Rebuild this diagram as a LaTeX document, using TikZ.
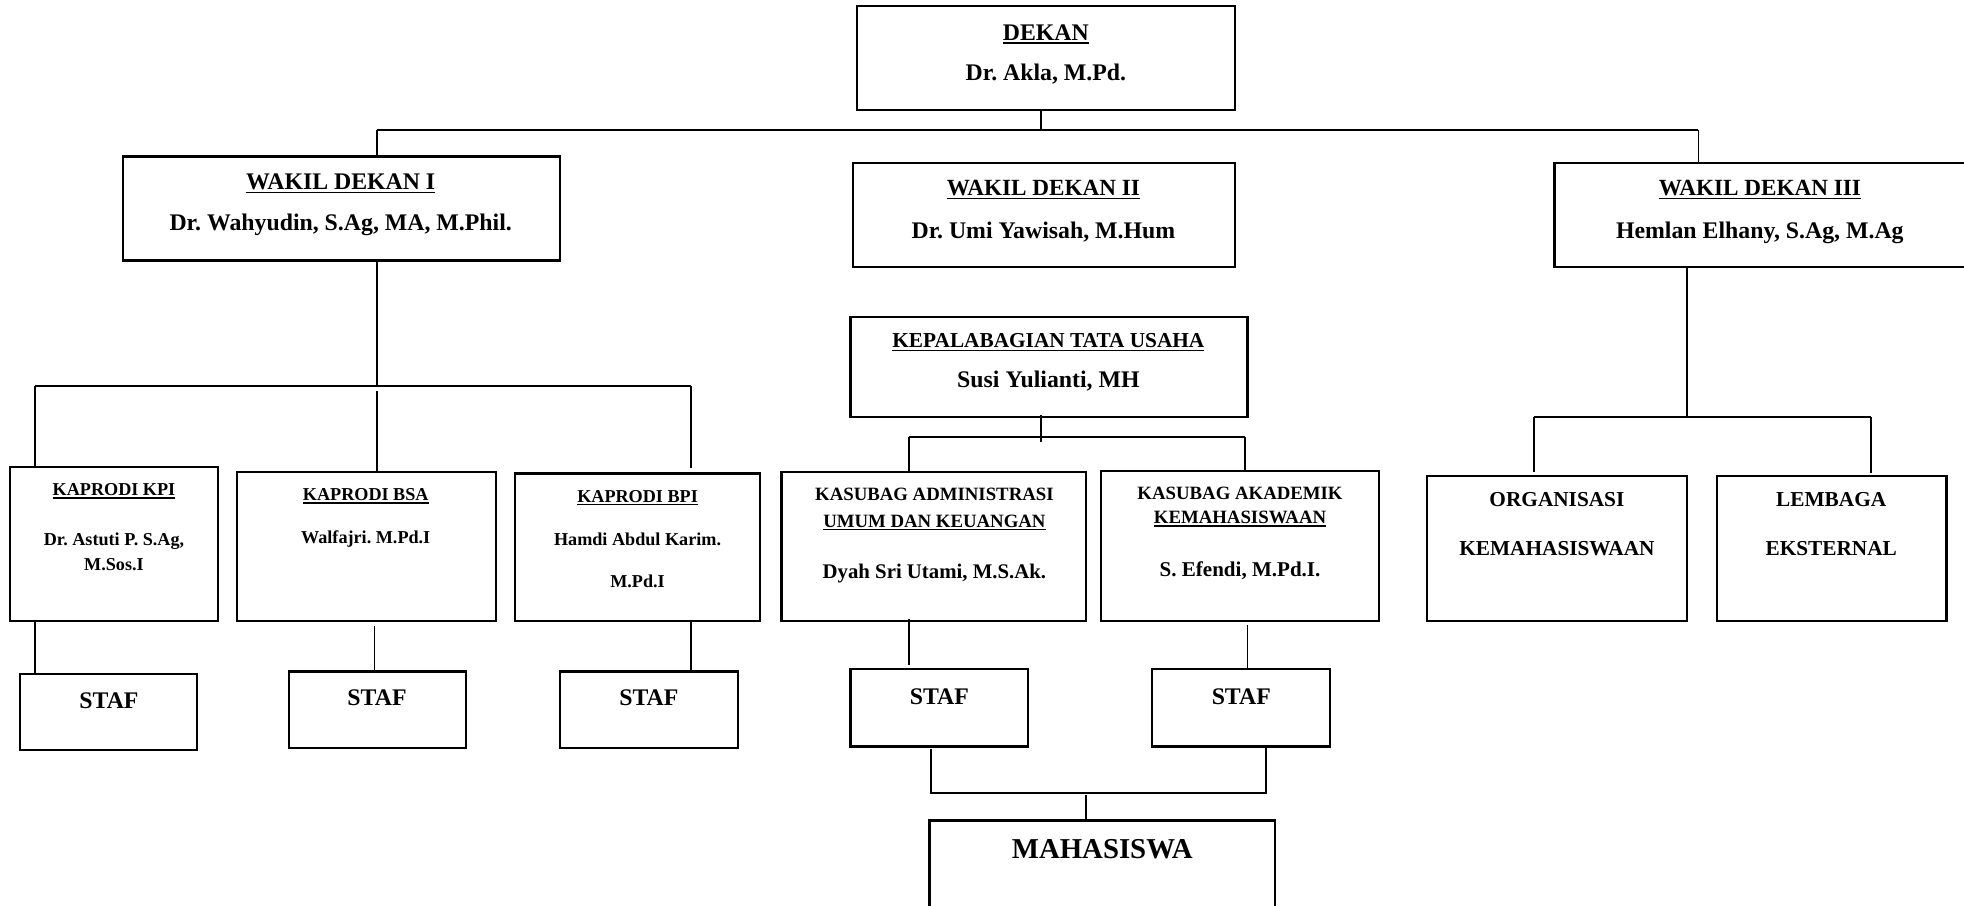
\documentclass[tikz,border=0pt]{standalone}
\usepackage{fontspec}
\setmainfont{Liberation Serif}
\frenchspacing
\newcommand{\myul}[1]{\setbox0\hbox{#1}\rlap{\rule[-0.16em]{\wd0}{0.075em}}\box0}
\tikzset{
  box/.style={draw, line width=1.8pt, inner sep=0pt, outer sep=0pt},
  txt/.style={inner sep=0pt, font=\bfseries, anchor=base},
  conn/.style={line width=1.5pt}
}
\newcommand{\mybox}[5]{\node[box, minimum width={#4-#2}, minimum height={#5-#3}] (#1) at ({(#2+#4)/2},{(#3+#5)/2}) {};}
\newcommand{\tx}[5]{\node[txt] (#1) at (#2,{#3+0.33*#4}) {\fontsize{#4}{#4}\selectfont #5};}
\begin{document}
\begin{tikzpicture}[x=1pt,y=-1pt]
\useasboundingbox (0,0) rectangle (1568,723);
% boxes
\mybox{dekan}{684}{5}{986}{88}
\mybox{wda}{98}{125}{447}{208}
\mybox{wdb}{681}{130}{986}{213}
\mybox{wdc}{1241}{130}{1590}{213}
\mybox{ktu}{679}{253}{996}{333}
\mybox{kpi}{8}{373}{174}{496}
\mybox{bsa}{189}{377}{396}{496}
\mybox{bpi}{411}{378}{607}{496}
\mybox{kasa}{624}{377}{867}{496}
\mybox{kasb}{879}{376}{1101}{496}
\mybox{org}{1139}{380}{1347}{496}
\mybox{lem}{1371}{380}{1554}{496}
\mybox{stafa}{16}{538}{157}{599}
\mybox{stafb}{231}{536}{372}{597}
\mybox{stafc}{447}{536}{589}{597}
\mybox{stafd}{679}{534}{821}{596}
\mybox{stafe}{920}{534}{1062}{596}
\mybox{mhs}{742}{655}{1018}{760}
% texts
\tx{t1}{835}{26}{19}{\myul{DEKAN}}
\tx{t2}{835}{58}{19}{Dr. Akla, M.Pd.}
\tx{t3}{272}{145}{19}{\myul{WAKIL DEKAN I}}
\tx{t4}{272}{178}{19}{Dr. Wahyudin, S.Ag, MA, M.Phil.}
\tx{t5}{833}{150}{18.5}{\myul{WAKIL DEKAN II}}
\tx{t6}{833}{184}{19}{Dr. Umi Yawisah, M.Hum}
\tx{t7}{1405}{150}{18.5}{\myul{WAKIL DEKAN III}}
\tx{t8}{1405}{184}{19}{Hemlan Elhany, S.Ag, M.Ag}
\tx{t9}{837}{272}{17}{\myul{KEPALABAGIAN TATA USAHA}}
\tx{t10}{837}{303}{19}{Susi Yulianti, MH}
\tx{t11}{91}{391}{14.5}{\myul{KAPRODI KPI}}
\tx{t12}{91}{431}{14.5}{Dr. Astuti P. S.Ag,}
\tx{t13}{91}{451}{14.5}{M.Sos.I}
\tx{t14}{292}{395}{14.5}{\myul{KAPRODI BSA}}
\tx{t15}{292}{429}{14.5}{Walfajri. M.Pd.I}
\tx{t16}{509}{396}{14.5}{\myul{KAPRODI BPI}}
\tx{t17}{509}{431}{14.5}{Hamdi Abdul Karim.}
\tx{t18}{509}{464}{14.5}{M.Pd.I}
\tx{t19}{746}{395}{15}{KASUBAG ADMINISTRASI}
\tx{t20}{746}{416}{15}{\myul{UMUM DAN KEUANGAN}}
\tx{t21}{746}{456}{16.6}{Dyah Sri Utami, M.S.Ak.}
\tx{t22}{990}{394}{15}{KASUBAG AKADEMIK}
\tx{t23}{990}{413}{15}{\myul{KEMAHASISWAAN}}
\tx{t24}{990}{455}{16.8}{S. Efendi, M.Pd.I.}
\tx{t25}{1243}{399}{17}{ORGANISASI}
\tx{t26}{1243}{438}{17}{KEMAHASISWAAN}
\tx{t27}{1462}{399}{17}{LEMBAGA}
\tx{t28}{1462}{438}{17}{EKSTERNAL}
\tx{t29}{87}{559}{19}{STAF}
\tx{t30}{301}{557}{19}{STAF}
\tx{t31}{518}{557}{19}{STAF}
\tx{t32}{750}{556}{19}{STAF}
\tx{t33}{991}{556}{19}{STAF}
\tx{t34}{880}{678}{23}{MAHASISWA}
% junction coordinates
\coordinate (j1) at (831,104);
\coordinate (b1l) at (301,104);
\coordinate (b1r) at (1356,104);
\coordinate (j2) at (301,308);
\coordinate (b2l) at (28,308);
\coordinate (b2r) at (552,308);
\coordinate (b2m) at (301,312);
\coordinate (b2re) at (552,374);
\coordinate (sa) at (28,496);
\coordinate (sb) at (299,500);
\coordinate (sc) at (552,496);
\coordinate (k1) at (831,331);
\coordinate (k2) at (831,353);
\coordinate (b3l) at (726,349);
\coordinate (b3r) at (994,349);
\coordinate (sd1) at (726,494);
\coordinate (sd2) at (726,531);
\coordinate (se1) at (996,499);
\coordinate (m1) at (743,598);
\coordinate (b4l) at (743,633);
\coordinate (m2) at (1011,596);
\coordinate (b4r) at (1011,633);
\coordinate (m3) at (867,635);
\coordinate (j5) at (1347,333);
\coordinate (b5l) at (1225,333);
\coordinate (b5r) at (1494,333);
\coordinate (b5le) at (1225,377);
\coordinate (b5re) at (1494,378);
% connectors
\draw[conn] (dekan.south -| j1) -- (j1);
\draw[conn] (b1l) -- (b1r);
\draw[conn] (b1l) -- (b1l |- wda.north);
\draw[conn] (b1r) -- (b1r |- wdc.north);
\draw[conn] (wda.south -| j2) -- (j2);
\draw[conn] (b2l) -- (b2r);
\draw[conn] (b2l) -- (b2l |- kpi.north);
\draw[conn] (b2m) -- (b2m |- bsa.north);
\draw[conn] (b2r) -- (b2re);
\draw[conn] (sa) -- (sa |- stafa.north);
\draw[conn] (sb) -- (sb |- stafb.north);
\draw[conn] (sc) -- (sc |- stafc.north);
\draw[conn] (k1) -- (k2);
\draw[conn] (b3l) -- (b3r);
\draw[conn] (b3l) -- (b3l |- kasa.north);
\draw[conn] (b3r) -- (b3r |- kasb.north);
\draw[conn] (sd1) -- (sd2);
\draw[conn] (se1) -- (se1 |- stafe.north);
\draw[conn] (m1) -- (b4l) -- (b4r) -- (m2);
\draw[conn] (m3) -- (m3 |- mhs.north);
\draw[conn] (wdc.south -| j5) -- (j5);
\draw[conn] (b5l) -- (b5r);
\draw[conn] (b5l) -- (b5le);
\draw[conn] (b5r) -- (b5re);
\end{tikzpicture}
\end{document}
